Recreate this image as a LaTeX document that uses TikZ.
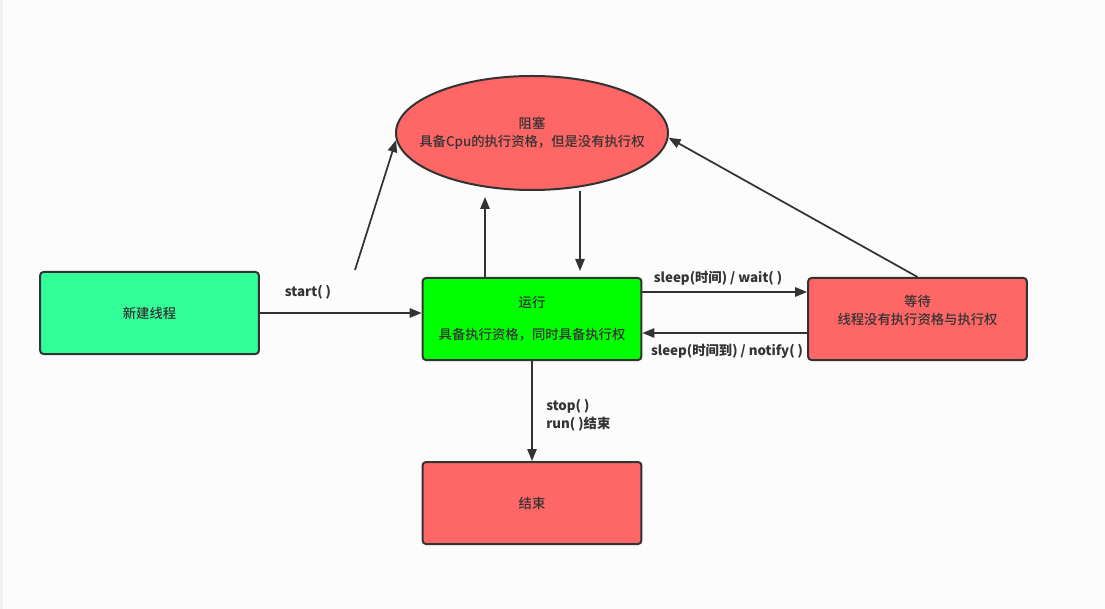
\documentclass[tikz,border=0pt]{standalone}
\usepackage{fontspec}
\setmainfont{Noto Sans CJK SC}[UprightFont=* Medium]
\newfontfamily\labelfont{Noto Sans CJK SC}
\usetikzlibrary{shapes.geometric,arrows.meta}
\definecolor{edge}{HTML}{333333}
\definecolor{newgreen}{HTML}{33FF99}
\definecolor{rungreen}{HTML}{00FF00}
\definecolor{stopred}{HTML}{FF6666}
\definecolor{paper}{HTML}{FCFCFC}
\definecolor{strip}{HTML}{F0F0F0}
\tikzset{
  statebox/.style={draw=edge, line width=1.5pt, rounded corners=2.5pt, minimum width=164pt, minimum height=61.5pt, align=center, text=edge, font=\fontsize{10pt}{14pt}\selectfont},
  blockshape/.style={ellipse, draw=edge, line width=1.5pt, fill=stopred, inner xsep=-20pt, inner ysep=0pt, minimum width=204pt, minimum height=85.5pt, align=center, text=edge, font=\fontsize{10pt}{13.5pt}\selectfont},
  arr/.style={draw=edge, line width=1.3pt, -{Triangle[length=9pt,width=7pt]}},
  lbl/.style={text=edge, font=\fontsize{10pt}{13.5pt}\labelfont\bfseries, inner sep=0pt}
}
\begin{document}
\begin{tikzpicture}[x=0.75pt, y=-0.75pt]
            % background
            \fill[paper] (0,0) rectangle (1105,609);
            \fill[strip] (0,0) rectangle (3,609);
            \useasboundingbox (0,0) rectangle (1105,609);

            % states
            \node[statebox, fill=newgreen] (new) at (149.5,313) {新建线程};
            \node[statebox, fill=rungreen] (run) at (532,319) {运行\\[10pt]具备执行资格，同时具备执行权};
            \node[statebox, fill=stopred] (wait) at (917.5,319) {等待\\线程没有执行资格与执行权\\\mbox{}};
            \node[statebox, fill=stopred] (dead) at (532,503) {结束};
            \node[blockshape] (block) at (532,133) {阻塞\\具备Cpu的执行资格，但是没有执行权};

            % new -> run
            \draw[arr] (new.east) -- (new.east -| run.west);
            \node[lbl] (startlbl) at (308,292) {start( )};
            % loose line up to block
            \coordinate (loose) at (355,270);
            \draw[arr] (loose) -- (block.183);

            % run <-> block
            \draw[arr, shorten >=4.5pt] ([xshift=-35.25pt]run.north) -- ([xshift=-35.25pt]run.north |- block.south);
            \draw[arr, shorten >=4.5pt] ([xshift=36pt]block.south) -- ([xshift=36pt]block.south |- run.north);

            % run <-> wait
            \draw[arr] ([yshift=-11.25pt]run.north east) -- ([yshift=-11.25pt]run.north east -| wait.west);
            \node[lbl] (sleeplbl) at (718,278) {sleep(时间) / wait( )};
            \draw[arr] ([yshift=-42pt]wait.north west) -- ([yshift=-42pt]wait.north west -| run.east);
            \node[lbl] (notifylbl) at (727,351) {sleep(时间到) / notify( )};

            % wait -> block
            \draw[arr] (wait.north) -- (block.358);

            % run -> dead
            \draw[arr] (run.south) -- (dead.north);
            \node[lbl, anchor=west, align=left] (stoplbl) at (546,415) {stop( )\\run( )结束};
        \end{tikzpicture}
\end{document}
